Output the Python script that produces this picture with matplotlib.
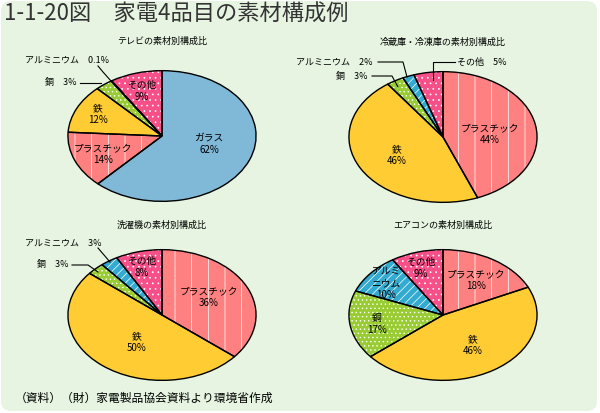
import matplotlib
matplotlib.use('Agg')
import matplotlib.pyplot as plt
from matplotlib.patches import FancyBboxPatch

plt.rcParams['font.family'] = ['Noto Sans CJK JP', 'DejaVu Sans']
plt.rcParams['hatch.linewidth'] = 0.5

# data (percent, clockwise from top)
tv_labels = ['ガラス', 'プラスチック', '鉄', '銅', 'アルミニウム', 'その他']
tv_values = [62, 14, 12, 3, 0.1, 9]
fridge_labels = ['プラスチック', '鉄', '銅', 'アルミニウム', 'その他']
fridge_values = [44, 46, 3, 2, 5]
washer_labels = ['プラスチック', '鉄', '銅', 'アルミニウム', 'その他']
washer_values = [36, 50, 3, 3, 8]
aircon_labels = ['プラスチック', '鉄', '銅', 'アルミニウム', 'その他']
aircon_values = [18, 46, 17, 10, 9]

colors = {'ガラス': '#80b8d8', 'プラスチック': '#ff8080', '鉄': '#ffcc33',
          '銅': '#99cc33', 'アルミニウム': '#33aad0', 'その他': '#f75088'}
hatches = {'ガラス': '', 'プラスチック': '|', '鉄': '', '銅': '....',
           'アルミニウム': '////', 'その他': '...'}

W, H = 600, 413
fig = plt.figure(figsize=(W / 100, H / 100), dpi=100)
fig.patch.set_facecolor('white')

bg = fig.add_axes([0, 0, 1, 1])
bg.set_xlim(0, W)
bg.set_ylim(H, 0)
bg.axis('off')
bg.add_patch(FancyBboxPatch((1, 1), W - 4, H - 3,
                            boxstyle='round,pad=0,rounding_size=10',
                            facecolor='#e6f4e1', edgecolor='none'))


def draw_pie(labels, values, cx, cy, rx=95, ry=66):
    ax = fig.add_axes([(cx - rx) / W, (H - cy - ry) / H, 2 * rx / W, 2 * ry / H])
    cols = [colors[l] for l in labels]
    ax.pie(values, colors=cols, startangle=90, counterclock=False,
           wedgeprops=dict(linewidth=0))
    ax.pie(values, startangle=90, counterclock=False,
           hatch=[hatches[l] for l in labels],
           wedgeprops=dict(facecolor='none', edgecolor='white', linewidth=0))
    ax.pie(values, startangle=90, counterclock=False,
           wedgeprops=dict(facecolor='none', edgecolor='black', linewidth=1))
    ax.set_aspect('auto')
    ax.set_xlim(-1.01, 1.01)
    ax.set_ylim(-1.01, 1.01)
    ax.axis('off')


draw_pie(tv_labels, tv_values, 162, 136)
draw_pie(fridge_labels, fridge_values, 443, 137)
draw_pie(washer_labels, washer_values, 162, 315)
draw_pie(aircon_labels, aircon_values, 443, 315)

top = fig.add_axes([0, 0, 1, 1])
top.set_xlim(0, W)
top.set_ylim(H, 0)
top.axis('off')
top.patch.set_visible(False)

fs = 6.5
top.text(4, 14, '1-1-20図　家電4品目の素材構成例', fontsize=16, color='#333333',
         va='center', ha='left')
top.text(15, 398, '（資料）（財）家電製品協会資料より環境省作成', fontsize=8.5,
         va='center', ha='left')

# subtitles
top.text(162, 41, 'テレビの素材別構成比', fontsize=fs, ha='center', va='center')
top.text(443, 42, '冷蔵庫・冷凍庫の素材別構成比', fontsize=fs, ha='center', va='center')
top.text(162, 225, '洗濯機の素材別構成比', fontsize=fs, ha='center', va='center')
top.text(443, 225, 'エアコンの素材別構成比', fontsize=fs, ha='center', va='center')


def inner(x, y, name, val):
    pct = f'{val:g}%'
    top.text(x, y, name + '\n' + pct, fontsize=7, ha='center', va='center',
             linespacing=1.3)


# TV
inner(142, 91, 'その他', tv_values[5])
inner(98, 114, '鉄', tv_values[2])
inner(103, 154, 'プラスチック', tv_values[1])
inner(209, 144, 'ガラス', tv_values[0])
top.text(25, 60, f'アルミニウム　{tv_values[4]:g}%', fontsize=fs, va='center')
top.plot([98, 103, 111], [66, 72, 81], color='black', lw=0.8)
top.text(45, 83, f'銅　{tv_values[3]:g}%', fontsize=fs, va='center')
top.plot([80, 101], [83, 83], color='black', lw=0.8)

# fridge
inner(490, 134, 'プラスチック', fridge_values[0])
inner(397, 155, '鉄', fridge_values[1])
top.text(457, 62, f'その他　{fridge_values[4]:g}%', fontsize=fs, va='center')
top.plot([455, 433, 433], [62, 62, 80], color='black', lw=0.8)
top.text(372, 62, f'アルミニウム　{fridge_values[3]:g}%', fontsize=fs, va='center',
         ha='right')
top.plot([378, 403, 407], [62, 62, 77], color='black', lw=0.8)
top.text(368, 76, f'銅　{fridge_values[2]:g}%', fontsize=fs, va='center', ha='right')
top.plot([372, 392, 398], [76, 76, 87], color='black', lw=0.8)

# washer
inner(142, 267, 'その他', washer_values[4])
inner(209, 297, 'プラスチック', washer_values[0])
inner(137, 342, '鉄', washer_values[1])
top.text(25, 243, f'アルミニウム　{washer_values[3]:g}%', fontsize=fs, va='center')
top.plot([98, 110], [248, 262], color='black', lw=0.8)
top.text(37, 265, f'銅　{washer_values[2]:g}%', fontsize=fs, va='center')
top.plot([72, 88, 98], [265, 265, 272], color='black', lw=0.8)

# air conditioner
inner(421, 268, 'その他', aircon_values[4])
inner(476, 280, 'プラスチック', aircon_values[0])
top.text(386, 283, 'アルミ\nニウム\n' + f'{aircon_values[3]:g}%', fontsize=7,
         ha='center', va='center', linespacing=1.3)
inner(377, 324, '銅', aircon_values[2])
inner(473, 345, '鉄', aircon_values[1])

fig.savefig('out.png', dpi=100, facecolor=fig.get_facecolor())
